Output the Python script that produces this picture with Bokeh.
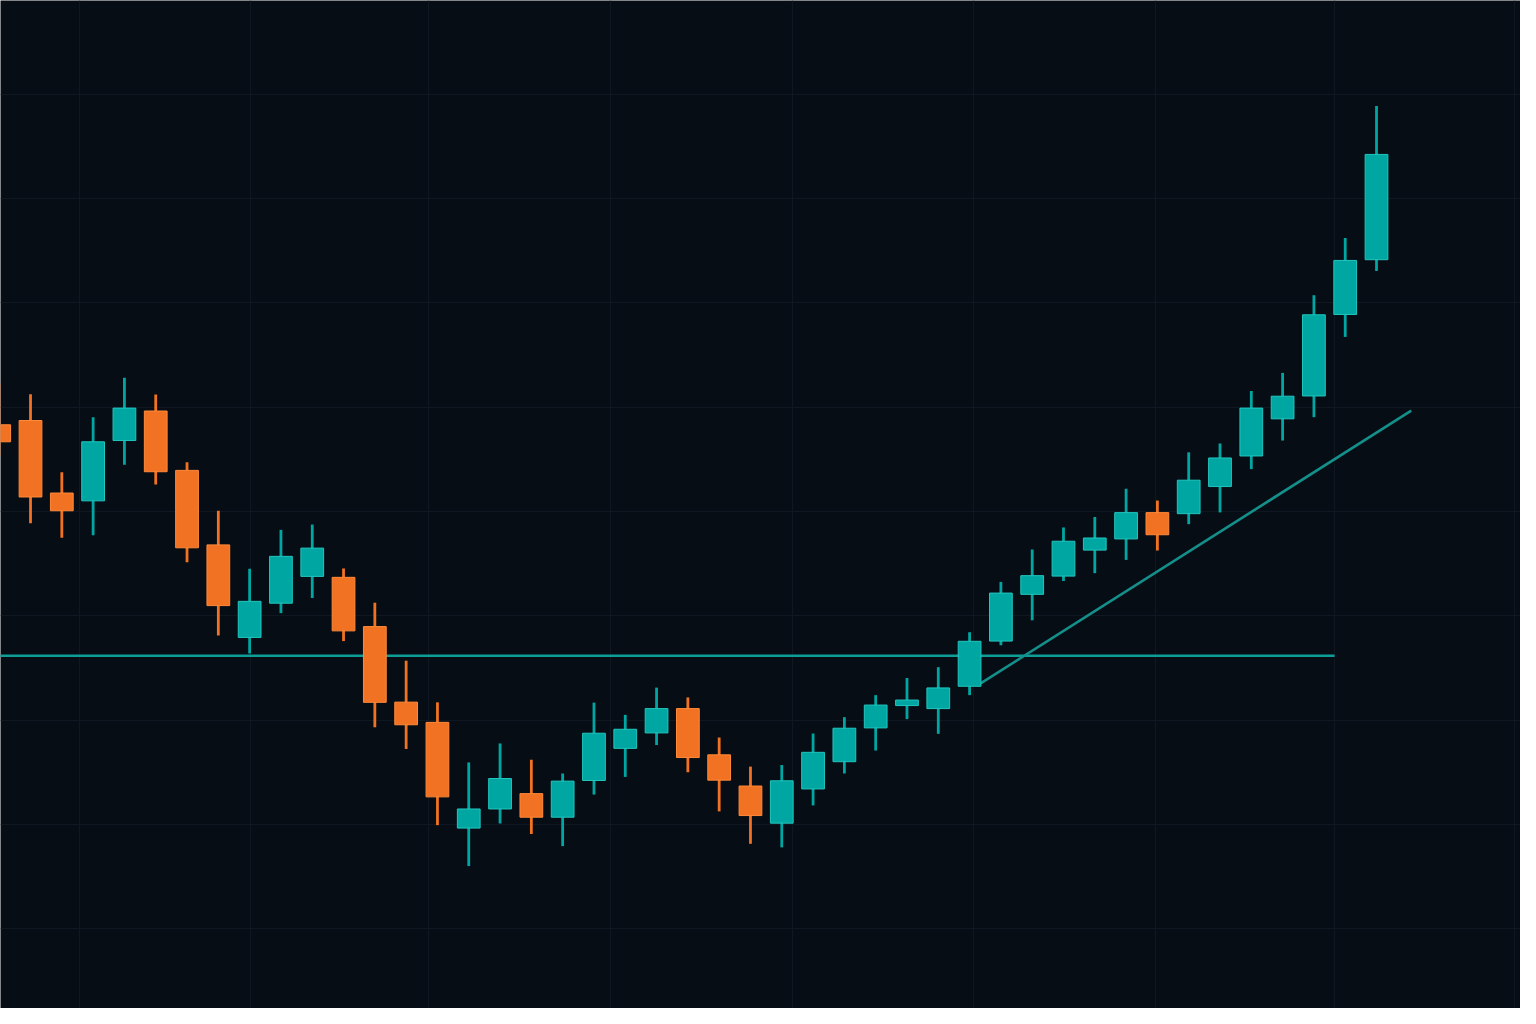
from bokeh.plotting import figure
from bokeh.models import ColumnDataSource, Range1d, FixedTicker
from bokeh.embed import file_html
from bokeh.resources import INLINE

# ---- data ----
opens  = [148.30, 148.71, 141.76, 141.01, 146.79, 149.62, 143.93, 136.79, 127.92, 131.20,
          133.77, 133.68, 128.96, 121.72, 119.78, 109.65, 111.48, 112.95, 110.69, 114.21,
          117.29, 118.77, 121.10, 116.67, 113.68, 110.12, 113.40, 116.01, 119.25, 121.39,
          121.10, 123.24, 127.57, 132.05, 133.80, 136.29, 137.36, 139.88, 139.78, 142.38,
          145.31, 148.87, 151.06, 158.87, 164.12]
highs  = [152.26, 151.23, 143.74, 149.03, 152.80, 151.20, 144.71, 140.06, 134.50, 138.23,
          138.74, 134.53, 131.25, 125.69, 121.70, 115.94, 117.76, 116.20, 114.88, 121.67,
          120.50, 123.11, 122.17, 118.33, 115.54, 115.69, 118.71, 120.28, 122.39, 124.03,
          125.07, 128.42, 133.24, 136.35, 138.46, 139.46, 142.17, 141.04, 145.66, 146.51,
          151.54, 153.27, 160.72, 166.20, 178.84]
lows   = [145.35, 138.87, 137.48, 137.71, 144.46, 142.57, 135.12, 128.11, 126.38, 130.25,
          131.70, 127.57, 119.31, 117.23, 109.93, 106.01, 110.09, 109.08, 107.92, 112.86,
          114.55, 117.61, 115.00, 111.25, 108.14, 107.80, 111.82, 114.88, 117.08, 120.09,
          118.68, 122.39, 127.17, 129.56, 133.33, 134.08, 135.35, 136.25, 138.77, 139.90,
          144.05, 146.79, 149.03, 156.72, 163.04]
closes = [146.67, 141.38, 140.06, 146.67, 149.90, 143.80, 136.51, 130.97, 131.38, 135.69,
          136.48, 128.55, 121.70, 119.55, 112.64, 111.48, 114.40, 110.69, 114.15, 118.74,
          119.12, 121.10, 116.41, 114.24, 110.85, 114.18, 116.91, 119.22, 121.44, 121.92,
          123.08, 127.55, 132.17, 133.84, 137.14, 137.45, 139.88, 137.76, 142.99, 145.12,
          149.90, 151.04, 158.84, 164.05, 174.21]

support_level = 126.16
support_x = [-1.0, 42.66]
trend_x = [31.24, 45.11]
trend_y = [123.30, 149.65]

grid_x = [2.57, 8.04, 13.73, 19.52, 25.33, 31.12, 36.94, 42.66, 48.41]
grid_y = [100, 110, 120, 130, 140, 150, 160, 170, 180]

UP_FILL, UP_LINE = "#00a6a1", "#22c6bf"
DN_FILL, DN_LINE = "#f07222", "#ff8a3a"
BG = "#070d15"
GRID = "#0f1822"

idx = list(range(len(opens)))
up = [c >= o for o, c in zip(opens, closes)]
src = ColumnDataSource(dict(
    x=idx,
    top=[max(o, c) for o, c in zip(opens, closes)],
    bottom=[min(o, c) for o, c in zip(opens, closes)],
    high=highs, low=lows,
    fill=[UP_FILL if u else DN_FILL for u in up],
    line=[UP_LINE if u else DN_LINE for u in up],
))

W, H = 1520, 1008
p = figure(width=W, height=H, output_backend="svg", toolbar_location=None,
           x_range=Range1d(0.041, 48.60), y_range=Range1d(92.358, 188.962),
           min_border=0, background_fill_color=BG, border_fill_color=BG,
           outline_line_color=None)
p.xaxis.visible = False
p.yaxis.visible = False
p.xaxis.ticker = FixedTicker(ticks=grid_x)
p.yaxis.ticker = FixedTicker(ticks=grid_y)
p.xgrid.ticker = FixedTicker(ticks=grid_x)
p.ygrid.ticker = FixedTicker(ticks=grid_y)
p.grid.grid_line_color = GRID
p.grid.grid_line_width = 1.2

p.line(support_x, [support_level, support_level], line_color="#0f9d97", line_width=2.6)
p.line(trend_x, trend_y, line_color="#13908a", line_width=2.6)

p.segment(x0="x", y0="low", x1="x", y1="high", source=src, line_color="fill", line_width=2.8)
p.vbar(x="x", width=0.727, top="top", bottom="bottom", source=src,
       fill_color="fill", line_color="line", line_width=1)

open("out.html", "w").write(file_html(p, INLINE))
